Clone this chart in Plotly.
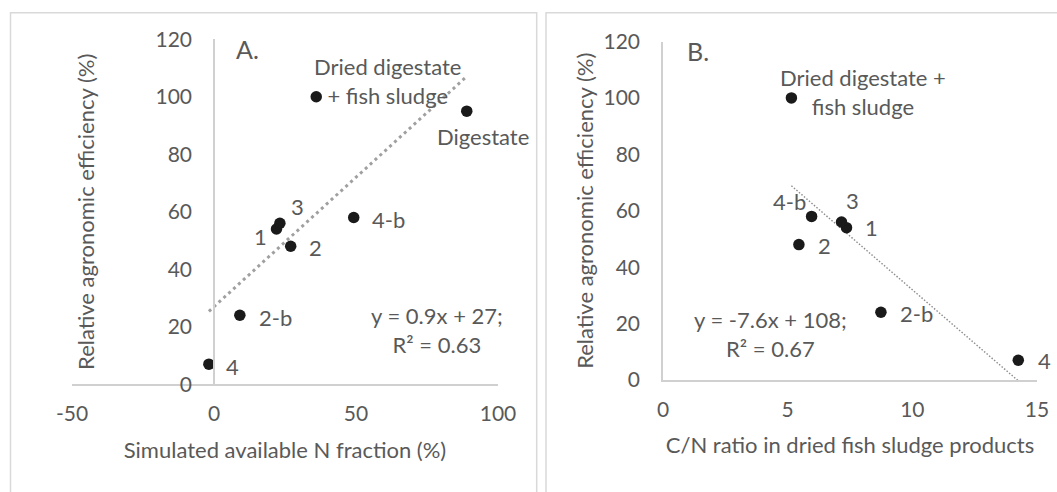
import plotly.graph_objects as go

# ---------------- data ----------------
labels_A = ["1", "2", "3", "4", "2-b", "4-b", "Digestate", "Dried digestate<br>+ fish sludge"]
x_A = [22.0, 27.0, 23.2, -1.8, 9.1, 49.2, 89.0, 36.0]          # simulated available N fraction (%)
y_A = [54, 48, 56, 7, 24, 58, 95, 100]                          # relative agronomic efficiency (%)
trend_A = (0.9, 27.0)                                           # slope, intercept
eq_A = "y = 0.9x + 27;<br>R² = 0.63"

labels_B = ["1", "2", "3", "4", "2-b", "4-b", "Dried digestate +<br>fish sludge"]
x_B = [7.36, 5.45, 7.16, 14.25, 8.74, 5.96, 5.15]               # C/N ratio
y_B = [54, 48, 56, 7, 24, 58, 100]
trend_B = (-7.6, 108.0)
eq_B = "y = -7.6x + 108;<br>R² = 0.67"

xticks_A = [-50, 0, 50, 100]
xticklabels_A = ["-50", "0", "50", "100"]
xticks_B = [0, 5, 10, 15]
yticks = [0, 20, 40, 60, 80, 100, 120]

# ---------------- style ----------------
W, H = 1057, 492
FONT = "Lato, Carlito, Calibri, sans-serif"
FS = 22
FT = 21
GREY = "#595959"
AXC = "#d0d0d0"

def px(v):  # horizontal pixel -> paper
    return v / W

def py(v):  # vertical pixel (from top) -> paper
    return 1 - v / H

fig = go.Figure()

# trendlines
xa0, xa1 = min(x_A), max(x_A)
fig.add_trace(go.Scatter(x=[xa0, xa1], y=[trend_A[0] * xa0 + trend_A[1], trend_A[0] * xa1 + trend_A[1]],
                         mode="lines", line=dict(color="#a0a0a0", width=3, dash="3px,3.6px"),
                         xaxis="x", yaxis="y", hoverinfo="skip"))
xb0, xb1 = min(x_B), max(x_B)
fig.add_trace(go.Scatter(x=[xb0, xb1], y=[trend_B[0] * xb0 + trend_B[1], trend_B[0] * xb1 + trend_B[1]],
                         mode="lines", line=dict(color="#8c8c8c", width=1.4, dash="1.5px,1.8px"),
                         xaxis="x2", yaxis="y2", hoverinfo="skip"))

# points
fig.add_trace(go.Scatter(x=x_A, y=y_A, mode="markers", marker=dict(size=11.5, color="#1a1a1a"),
                         xaxis="x", yaxis="y", hoverinfo="skip"))
fig.add_trace(go.Scatter(x=x_B, y=y_B, mode="markers", marker=dict(size=11.5, color="#1a1a1a"),
                         xaxis="x2", yaxis="y2", hoverinfo="skip"))

# data labels (pixel offsets from their points)
shift_A = {"1": (-16, -7), "2": (25, -1), "3": (18, 17), "4": (24, -2), "2-b": (36, -2),
           "4-b": (35, -2), "Digestate": (16, -25), "Dried digestate<br>+ fish sludge": (72, 16)}
shift_B = {"1": (25, 0), "2": (26, -1), "3": (11, 22), "4": (26, 0), "2-b": (36, -1),
           "4-b": (-22, 15), "Dried digestate +<br>fish sludge": (72, 6)}

annotations = []
for lab, xv, yv in zip(labels_A, x_A, y_A):
    dx, dy = shift_A[lab]
    annotations.append(dict(x=xv, y=yv, xref="x", yref="y", text=lab, showarrow=False,
                            xshift=dx, yshift=dy, xanchor="center", yanchor="middle",
                            font=dict(family=FONT, size=FS, color=GREY)))
for lab, xv, yv in zip(labels_B, x_B, y_B):
    dx, dy = shift_B[lab]
    annotations.append(dict(x=xv, y=yv, xref="x2", yref="y2", text=lab, showarrow=False,
                            xshift=dx, yshift=dy, xanchor="center", yanchor="middle",
                            font=dict(family=FONT, size=FS, color=GREY)))

# equations and panel letters
annotations += [
    dict(x=78.5, y=18.9, xref="x", yref="y", text=eq_A, showarrow=False, xanchor="center",
         yanchor="middle", font=dict(family=FONT, size=FS, color=GREY)),
    dict(x=4.33, y=16.3, xref="x2", yref="y2", text=eq_B, showarrow=False, xanchor="center",
         yanchor="middle", font=dict(family=FONT, size=FS, color=GREY)),
    dict(x=7, y=116.5, xref="x", yref="y", text="A.", showarrow=False, xanchor="left",
         yanchor="middle", font=dict(family=FONT, size=FS + 3, color=GREY)),
    dict(x=0.88, y=116.7, xref="x2", yref="y2", text="B.", showarrow=False, xanchor="left",
         yanchor="middle", font=dict(family=FONT, size=FS + 3, color=GREY)),
]

tickfont = dict(family=FONT, size=FT, color=GREY)
titlefont = dict(family=FONT, size=FS, color=GREY)

common = dict(showgrid=False, zeroline=False, showline=True, linecolor=AXC, linewidth=1.5,
              ticks="", automargin=False, tickfont=tickfont)

fig.update_layout(
    template="none",
    width=W, height=H, autosize=False,
    margin=dict(l=0, r=0, t=0, b=0, pad=0),
    paper_bgcolor="white", plot_bgcolor="white",
    showlegend=False,
    annotations=annotations,
    xaxis=dict(domain=[px(72), px(498)], range=[-50, 100], tickvals=xticks_A, ticktext=xticklabels_A,
               anchor="y", ticklabelstandoff=10,
               title=dict(text="Simulated available N fraction (%)", font=titlefont, standoff=18), **common),
    yaxis=dict(domain=[py(384.3), py(39.3)], range=[0, 120], tickvals=yticks, anchor="free",
               position=px(214), ticklabelstandoff=17,
               title=dict(text="Relative agronomic efficiency (%)", font=titlefont, standoff=54), **common),
    xaxis2=dict(domain=[px(663), px(1037)], range=[0, 15], tickvals=xticks_B, anchor="y2",
                ticklabelstandoff=10,
                title=dict(text="C/N ratio in dried fish sludge products", font=titlefont, standoff=18), **common),
    yaxis2=dict(domain=[py(380), py(41.5)], range=[0, 120], tickvals=yticks, anchor="x2",
                ticklabelstandoff=17,
                title=dict(text="Relative agronomic efficiency (%)", font=titlefont, standoff=4), **common),
    shapes=[
        dict(type="rect", xref="paper", yref="paper", x0=px(10.5), x1=px(536.7), y0=py(500), y1=py(12.7),
             line=dict(color="#d9d9d9", width=1.5), fillcolor="rgba(0,0,0,0)", layer="below"),
        dict(type="rect", xref="paper", yref="paper", x0=px(546), x1=px(1070), y0=py(500), y1=py(12.7),
             line=dict(color="#d9d9d9", width=1.5), fillcolor="rgba(0,0,0,0)", layer="below"),
    ],
)

fig.write_html("out.html", config={"displayModeBar": False})
